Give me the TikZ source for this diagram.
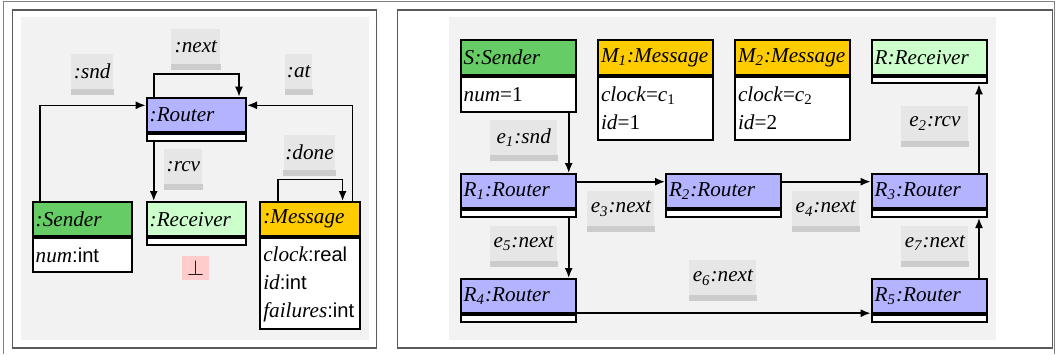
\documentclass[tikz,border=0pt]{standalone}
\usepackage{fontspec}
\setmainfont{Liberation Serif}
\setsansfont{Liberation Sans}[Scale=0.95]
\usetikzlibrary{arrows.meta}

\definecolor{rtc}{RGB}{179,179,255}
\definecolor{sdc}{RGB}{102,204,102}
\definecolor{rcc}{RGB}{204,255,204}
\definecolor{msc}{RGB}{255,204,0}
\definecolor{pkc}{RGB}{255,204,204}
\definecolor{bgc}{RGB}{242,242,242}
\definecolor{lblc}{RGB}{230,230,230}
\definecolor{stripc}{RGB}{204,204,204}
\definecolor{framec}{RGB}{90,90,90}

\newcommand{\ty}[1]{\textsf{\upshape #1}}
\newcommand{\up}[1]{\textup{#1}}

\begin{document}
\begin{tikzpicture}[x=0.5pt,y=-0.5pt,
  font=\fontsize{10.6}{14}\selectfont\itshape,
  uml/.style={draw=black, line width=1pt, anchor=north west, inner xsep=1.5pt, inner ysep=0pt, align=left},
  hL/.style={uml, minimum width=49.65pt, text width=46.65pt},
  hR/.style={uml, minimum width=57.5pt, text width=54.5pt},
  head/.style={minimum height=17.2pt},
  empty/.style={minimum height=3.3pt, fill=white},
  attr/.style={fill=white, minimum height=#1},
  lbl/.style={fill=lblc, anchor=north west, inner sep=0pt, minimum height=17.2pt, minimum width=#1},
  arr/.style={-{Latex[length=5pt,width=4pt]}, line width=0.8pt},
  frame/.style={draw=framec, line width=0.7pt}]
\useasboundingbox (0,0) rectangle (1056,354);

% page edge and panels
\draw[draw=gray, line width=0.8pt] (3.5,354) -- (3.5,1.5) -- (1054.5,1.5) -- (1054.5,354);
\fill[bgc] (21,17) rectangle (369,340);
\draw[frame] (12.5,10) rectangle (376.5,348);
\fill[bgc] (449,17) rectangle (996,340);
\draw[frame] (397.5,10) rectangle (1052.5,348);

% ---------- class diagram ----------
\node[hL, head, fill=rtc] (Rt) at (145.7,96.7) {:Router};
\node[hL, empty] (Rtb) at (Rt.south west) {};

\node[hL, head, fill=sdc] (Sd) at (31.7,201) {:Sender};
\node[hL, attr=17pt] (Sdb) at (Sd.south west) {num\ty{:int}};

\node[hL, head, fill=rcc] (Rc) at (145.7,201) {:Receiver};
\node[hL, empty] (Rcb) at (Rc.south west) {};

\node[hL, head, fill=msc] (Ms) at (259.3,201) {:Message};
\node[hL, attr=45.5pt] (Msb) at (Ms.south west)
  {clock\ty{:real}\\id\ty{:int}\\failures\ty{:int}};

\node[fill=pkc, anchor=north west, inner sep=0pt, minimum width=13.35pt, minimum height=11.65pt] (bt) at (182,256) {$\bot$};

\node[lbl=20.85pt] (l1) at (71,54) {:snd};
\node[lbl=24.5pt] (l2) at (171,29) {:next};
\node[lbl=13.35pt] (l3) at (285,54) {:at};
\node[lbl=19pt] (l4) at (164,149) {:rcv};
\node[lbl=25.85pt] (l5) at (283.3,135) {:done};

\draw[arr] ([xshift=4.15pt]Sd.north west) |- ([yshift=-4.3pt]Rt.north west);
\draw[arr] ([xshift=4pt]Rt.north west) -- ++(0,11.35pt) -| ([xshift=-4pt]Rt.north east);
\draw[arr] ([xshift=-4pt]Ms.north east) |- ([yshift=-4.3pt]Rt.north east);
\draw[arr] ([xshift=4pt]Rtb.south west) -- ([xshift=4pt]Rc.north west);
\draw[arr] ([xshift=9.2pt]Ms.north west) -- ++(0,10.85pt) -| ([xshift=-9pt]Ms.north east);

% ---------- object diagram ----------
\node[hR, head, fill=sdc] (S) at (459.7,39.3) {S:Sender};
\node[hR, attr=17.7pt] (Sb) at (S.south west) {num\up{=1}};

\node[hR, head, fill=msc] (M1) at (597,39.3) {M\textsubscript{1}:Message};
\node[hR, attr=31.7pt] (M1b) at (M1.south west) {clock\up{=}c\textsubscript{\upshape 1}\\id\up{=1}};

\node[hR, head, fill=msc] (M2) at (734,39.3) {M\textsubscript{2}:Message};
\node[hR, attr=31.7pt] (M2b) at (M2.south west) {clock\up{=}c\textsubscript{\upshape 2}\\id\up{=2}};

\node[hR, head, fill=rcc] (R) at (870.7,39.3) {R:Receiver};
\node[hR, empty] (Rb) at (R.south west) {};

\node[hR, head, fill=rtc] (R1) at (459.7,173) {R\textsubscript{1}:Router};
\node[hR, empty] (R1b) at (R1.south west) {};
\node[hR, head, fill=rtc] (R2) at (665,173) {R\textsubscript{2}:Router};
\node[hR, empty] (R2b) at (R2.south west) {};
\node[hR, head, fill=rtc] (R3) at (870.7,173) {R\textsubscript{3}:Router};
\node[hR, empty] (R3b) at (R3.south west) {};
\node[hR, head, fill=rtc] (R4) at (459.7,278) {R\textsubscript{4}:Router};
\node[hR, empty] (R4b) at (R4.south west) {};
\node[hR, head, fill=rtc] (R5) at (870.7,278) {R\textsubscript{5}:Router};
\node[hR, empty] (R5b) at (R5.south west) {};

\node[lbl=33.35pt] (k1) at (490,120) {e\textsubscript{1}:snd};
\node[lbl=33.5pt] (k3) at (587,191) {e\textsubscript{3}:next};
\node[lbl=33.35pt] (k5) at (490,225.7) {e\textsubscript{5}:next};
\node[lbl=33.5pt] (k6) at (689,260) {e\textsubscript{6}:next};
\node[lbl=33.65pt] (k4) at (791.7,191) {e\textsubscript{4}:next};
\node[lbl=33.5pt] (k2) at (901,106) {e\textsubscript{2}:rcv};
\node[lbl=33.5pt] (k7) at (901,225.7) {e\textsubscript{7}:next};

\foreach \n in {l1,l2,l3,l4,l5,k1,k2,k3,k4,k5,k6,k7}
  \fill[stripc] (\n.south west) rectangle ([yshift=-3pt]\n.south east);

\draw[arr] ([xshift=-4pt]Sb.south east) -- ([xshift=-4pt]R1.north east);
\draw[arr] ([yshift=-4.35pt]R1.north east) -- ([yshift=-4.35pt]R2.north west);
\draw[arr] ([yshift=-4.35pt]R2.north east) -- ([yshift=-4.35pt]R3.north west);
\draw[arr] ([xshift=-4pt]R1b.south east) -- ([xshift=-4pt]R4.north east);
\draw[arr] ([yshift=0.6pt]R4.south east) -- ([yshift=0.6pt]R5.south west);
\draw[arr] ([xshift=-4.35pt]R3.north east) -- ([xshift=-4.35pt]Rb.south east);
\draw[arr] ([xshift=-4.35pt]R5.north east) -- ([xshift=-4.35pt]R3b.south east);
\end{tikzpicture}
\end{document}
